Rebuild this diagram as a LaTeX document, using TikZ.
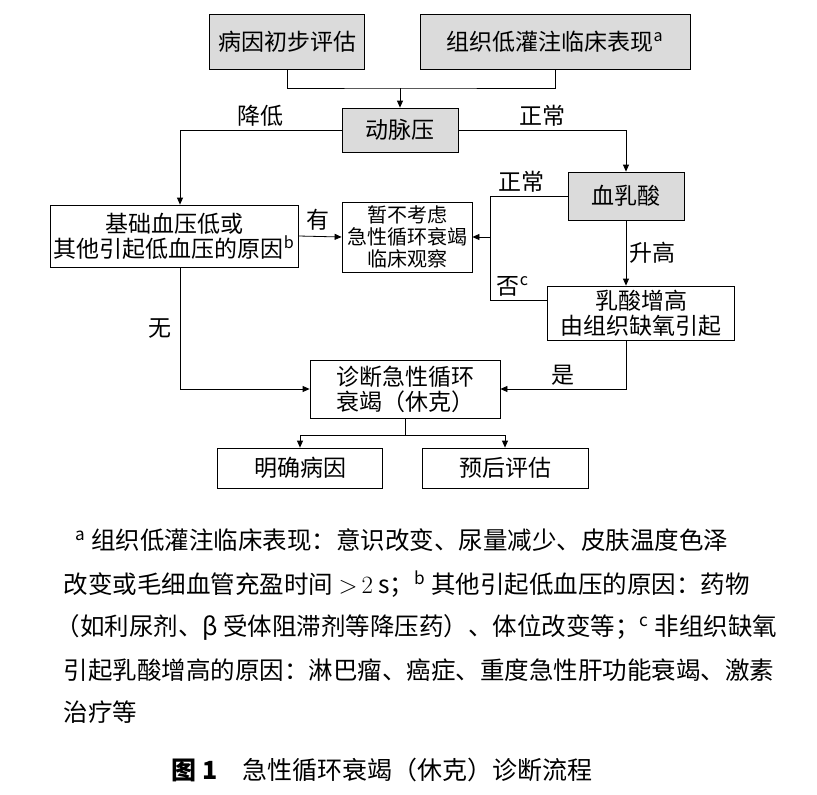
\documentclass[tikz,border=0pt]{standalone}
\usepackage{fontspec}
\setmainfont{Noto Sans CJK SC}
\usetikzlibrary{arrows.meta}

\begin{document}
\begin{tikzpicture}[x=1pt,y=-1pt,>={Triangle[length=7pt,width=6pt]},
    every node/.style={font=\fontsize{23}{25}\selectfont},
    notetext/.style={anchor=west,font=\fontsize{24.5}{26}\selectfont},
    graybox/.style={draw,thick,fill=gray!28,align=center,inner sep=0pt},
    whitebox/.style={draw,thick,fill=white,align=center,inner sep=0pt},
    flow/.style={thick}]
    \useasboundingbox (0,0) rectangle (817,795);

    % boxes
    \node[graybox,minimum width=155,minimum height=55] (cause) at (287,42) {病因初步评估};
    \node[graybox,minimum width=270,minimum height=55] (perf) at (555,42) {组织低灌注临床表现$^{\mathrm{a}}$};
    \node[graybox,minimum width=116,minimum height=44] (bp) at (400,130) {动脉压};
    \node[graybox,minimum width=116,minimum height=48] (lac) at (626,196) {血乳酸};
    \node[whitebox,minimum width=248,minimum height=62] (low) at (174,236) {基础血压低或\\其他引起低血压的原因$^{\mathrm{b}}$};
    \node[whitebox,minimum width=130,minimum height=70,font=\fontsize{20}{22}\selectfont] (obs) at (407,237) {暂不考虑\\急性循环衰竭\\临床观察};
    \node[whitebox,minimum width=187,minimum height=54] (hyp) at (641,313) {乳酸增高\\由组织缺氧引起};
    \node[whitebox,minimum width=190,minimum height=58] (shock) at (405,389) {诊断急性循环\\衰竭（休克）};
    \node[whitebox,minimum width=165,minimum height=40] (etio) at (300,468) {明确病因};
    \node[whitebox,minimum width=166,minimum height=40] (prog) at (505,468) {预后评估};

    % connectors
    \coordinate (join) at (400,88);
    \draw[flow] (cause.south) |- (join) -| (perf.south);
    \draw[flow,->] (join) -- (bp.north);
    \draw[flow,->] (bp.west) -| node[pos=0.25,above] {降低} (low.north -| 180,0);
    \draw[flow,->] (bp.east) -| node[pos=0.25,above] {正常} (lac.north);
    \draw[flow,->] (low.east) -- node[pos=0.45,above,yshift=2] {有} (obs.west);
    \coordinate (split) at (490,237);
    \draw[flow] (lac.west) -| node[pos=0.3,above] {正常} (split);
    \draw[flow] (hyp.west |- 0,300) -| node[pos=0.3,above] {否$^{\mathrm{c}}$} (split);
    \draw[flow,->] (split) -- (obs.east);
    \draw[flow,->] (lac.south) -- node[right] {升高} (lac.south |- hyp.north);
    \draw[flow,->] (low.south -| 180,0) |- node[pos=0.25,left,xshift=-5] {无} (shock.west);
    \draw[flow,->] (hyp.south -| 626,0) |- node[pos=0.75,above] {是} (shock.east);
    \coordinate (fork) at (405,435);
    \draw[flow] (shock.south) -- (fork);
    \draw[flow,->] (fork) -| (etio.north);
    \draw[flow,->] (fork) -| (prog.north);

    % notes
    \node[notetext] (n1) at (72,540) {$^{\mathrm{a}}$ 组织低灌注临床表现：意识改变、尿量减少、皮肤温度色泽};
    \node[notetext] (n2) at (60,584) {改变或毛细血管充盈时间 ${>}\,2$ s；$^{\mathrm{b}}$ 其他引起低血压的原因：药物};
    \node[notetext] (n3) at (52,627) {（如利尿剂、β 受体阻滞剂等降压药）、体位改变等；$^{\mathrm{c}}$ 非组织缺氧};
    \node[notetext] (n4) at (60,670) {引起乳酸增高的原因：淋巴瘤、癌症、重度急性肝功能衰竭、激素};
    \node[notetext] (n5) at (60,712) {治疗等};
    \node[anchor=west,font=\fontsize{25}{27}\selectfont] (cap) at (168,770) {\textbf{图 1}\quad 急性循环衰竭（休克）诊断流程};
\end{tikzpicture}
\end{document}
